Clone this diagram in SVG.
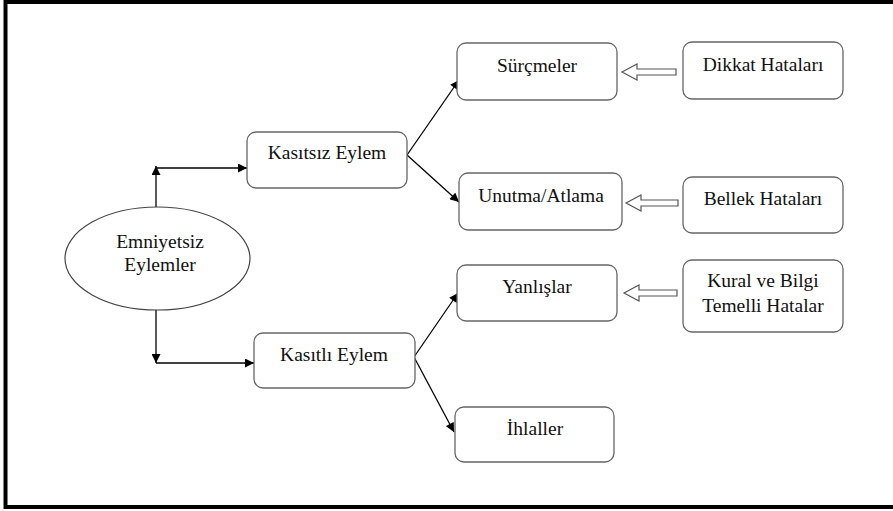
<svg xmlns="http://www.w3.org/2000/svg" width="893" height="511" viewBox="0 0 893 511">
<defs>
<style>
.box{fill:#fff;stroke:#666;stroke-width:1.3}
.t{font-family:'Liberation Serif','Times New Roman',Times,serif;font-size:19.5px;fill:#111;text-anchor:middle}
.ln{stroke:#000;stroke-width:1.3;fill:none}
.ha{fill:#fff;stroke:#555;stroke-width:1.2}
</style>
<marker id="ah" viewBox="0 0 10 10" refX="10" refY="5" markerWidth="10" markerHeight="9" markerUnits="userSpaceOnUse" orient="auto">
<path d="M0,0 L10,5 L0,10 Z" fill="#000"/>
</marker>
</defs>
<rect x="0" y="0" width="893" height="511" fill="#fff"/>
<rect x="5.5" y="2" width="900" height="505" fill="none" stroke="#000" stroke-width="4"/>

<g id="connectors">
<line class="ln" x1="156" y1="207" x2="156" y2="166" marker-end="url(#ah)"/>
<line class="ln" x1="156" y1="168" x2="247" y2="168" marker-end="url(#ah)"/>
<line class="ln" x1="156" y1="309" x2="156" y2="363" marker-end="url(#ah)"/>
<line class="ln" x1="156" y1="363" x2="254" y2="363" marker-end="url(#ah)"/>
<line class="ln" x1="407" y1="155" x2="459" y2="80" marker-end="url(#ah)"/>
<line class="ln" x1="407" y1="155" x2="459" y2="202" marker-end="url(#ah)"/>
<line class="ln" x1="414" y1="357" x2="458" y2="293" marker-end="url(#ah)"/>
<line class="ln" x1="414" y1="357" x2="454" y2="432" marker-end="url(#ah)"/>
<polygon class="ha" points="622,72 637,64 637,69 676,69 676,75 637,75 637,80"/>
<polygon class="ha" points="626,203 641,195 641,200 678,200 678,206 641,206 641,211"/>
<polygon class="ha" points="624,293 639,285 639,290 677,290 677,296 639,296 639,301"/>
</g>

<g id="emniyetsiz">
<ellipse cx="157.5" cy="258.5" rx="92.5" ry="51.5" fill="#fff" stroke="#444" stroke-width="1.2"/>
<text class="t" x="160" y="248">Emniyetsiz</text>
<text class="t" x="160" y="271">Eylemler</text>
</g>
<g id="kasitsiz">
<rect class="box" x="247" y="132" width="160" height="56" rx="9"/>
<text class="t" x="327" y="159">Kasıtsız Eylem</text>
</g>
<g id="kasitli">
<rect class="box" x="254" y="333" width="161" height="55" rx="9"/>
<text class="t" x="334" y="361">Kasıtlı Eylem</text>
</g>
<g id="surcmeler">
<rect class="box" x="457" y="43" width="160" height="57" rx="9"/>
<text class="t" x="537" y="72">Sürçmeler</text>
</g>
<g id="unutma">
<rect class="box" x="459" y="173" width="163" height="57" rx="9"/>
<text class="t" x="541" y="202">Unutma/Atlama</text>
</g>
<g id="yanlislar">
<rect class="box" x="457" y="265" width="160" height="56" rx="9"/>
<text class="t" x="537" y="293">Yanlışlar</text>
</g>
<g id="ihlaller">
<rect class="box" x="455" y="407" width="159" height="55" rx="9"/>
<text class="t" x="535" y="435">İhlaller</text>
</g>
<g id="dikkat">
<rect class="box" x="683" y="42" width="160" height="57" rx="9"/>
<text class="t" x="763" y="71">Dikkat Hataları</text>
</g>
<g id="bellek">
<rect class="box" x="683" y="177" width="160" height="56" rx="9"/>
<text class="t" x="763" y="205">Bellek Hataları</text>
</g>
<g id="kural">
<rect class="box" x="683" y="260" width="160" height="72" rx="9"/>
<text class="t" x="763" y="287">Kural ve Bilgi</text>
<text class="t" x="763" y="312">Temelli Hatalar</text>
</g>
</svg>
